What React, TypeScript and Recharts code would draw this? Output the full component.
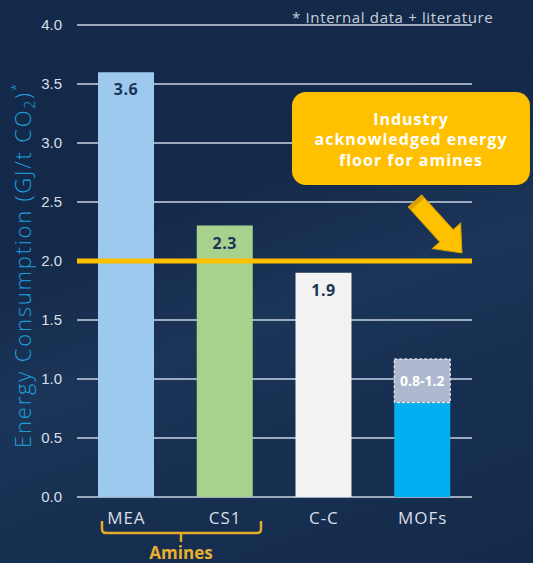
import React from 'react';
import { BarChart, Bar, XAxis, YAxis, CartesianGrid, ReferenceLine, Cell, LabelList } from 'recharts';

const categories = ['MEA', 'CS1', 'C-C', 'MOFs'];
const baseValues = [3.6, 2.3, 1.9, 0.8];
const rangeValues = [0, 0, 0, 0.37];
const valueLabels = ['3.6', '2.3', '1.9', ''];
const rangeLabels = ['', '', '', '0.8-1.2'];
const barColors = ['#9DC9EE', '#A9D18E', '#F2F2F2', '#00B0F0'];
const yTicks = [0, 0.5, 1, 1.5, 2, 2.5, 3, 3.5, 4];
const floorValue = 2.0;

const data = categories.map((c, i) => ({
  name: c,
  base: baseValues[i],
  range: rangeValues[i],
  vLabel: valueLabels[i],
  rLabel: rangeLabels[i],
}));

const W = 533;
const H = 563;

const ValueLabel = (props: any) => {
  const { x, y, width, value } = props;
  if (!value) return null;
  return (
    <text x={x + width / 2} y={y + 23} textAnchor="middle" fill="#1B3355" letterSpacing={0.5}
      fontFamily="Open Sans" fontWeight={700} fontSize={16}>{value}</text>
  );
};

const RangeLabel = (props: any) => {
  const { x, y, width, height, value } = props;
  if (!value) return null;
  return (
    <text x={x + width / 2} y={y + height / 2 + 5} textAnchor="middle" fill="#FFFFFF"
      fontFamily="Open Sans" fontWeight={700} fontSize={14}>{value}</text>
  );
};

export default function App() {
  return (
    <div style={{
      position: 'absolute', left: 0, top: 0, width: W, height: H, overflow: 'hidden',
      background: 'linear-gradient(160deg, #142A4A 0%, #14294A 35%, #1B3558 55%, #173052 70%, #142A4A 100%)',
    }}>
      <BarChart width={W} height={H} data={data}
        margin={{ top: 25, right: 61, left: 0, bottom: 36 }}>
        <CartesianGrid horizontal vertical={false} stroke="#C9D3E3" strokeWidth={1.5} />
        <XAxis dataKey="name" axisLine={false} tickLine={false} tickMargin={9} height={30}
          tick={{ fill: '#D9DEE6', fontSize: 17, fontFamily: 'Open Sans', letterSpacing: 1 }} />
        <YAxis domain={[0, 4]} ticks={yTicks} axisLine={false} tickLine={false} tickMargin={9}
          width={77} tickFormatter={(v: number) => v.toFixed(1)}
          tick={{ fill: '#D9DEE6', fontSize: 15, fontFamily: 'Liberation Sans' }} />
        <Bar dataKey="base" stackId="a" barSize={56} isAnimationActive={false}>
          {data.map((d, i) => <Cell key={d.name} fill={barColors[i]} />)}
          <LabelList dataKey="vLabel" content={ValueLabel} />
        </Bar>
        <Bar dataKey="range" stackId="a" barSize={56} fill="#AEB9CF" stroke="#FFFFFF"
          strokeDasharray="3 2" strokeWidth={1} isAnimationActive={false}>
          <LabelList dataKey="rLabel" content={RangeLabel} />
        </Bar>
        <ReferenceLine y={floorValue} stroke="#FFC000" strokeWidth={5} />
      </BarChart>
      <svg width={W} height={H} style={{ position: 'absolute', left: 0, top: 0, pointerEvents: 'none' }}>
        <text x={292} y={23} fill="#C8CFDA" fontFamily="Open Sans" fontSize={15} letterSpacing={0.65}>* Internal data + literature</text>
        <text transform="translate(31,265) rotate(-90)" textAnchor="middle" fill="#1E9FDC"
          fontFamily="Open Sans" fontWeight={300} fontSize={22} letterSpacing={1.8}>
          Energy Consumption (GJ/t CO<tspan fontSize={14} dy={4}>2</tspan><tspan dy={-4}>)</tspan><tspan fontSize={13} dy={-10}>*</tspan>
        </text>
        <rect x={292} y={92} width={238} height={93} rx={14} ry={14} fill="#FFC000" />
        <g fontFamily="Open Sans" fontWeight={700} fontSize={16} fill="#FFFFFF" textAnchor="middle" letterSpacing={1}>
          <text x={411} y={125}>Industry</text>
          <text x={411} y={145}>acknowledged energy</text>
          <text x={411} y={166}>floor for amines</text>
        </g>
        <g transform="translate(415,201) rotate(47.9)">
          <polygon points="0,-9 47,-9 47,-19 70,0 47,19 47,9 0,9" fill="#FFC000" stroke="#D9A100" strokeWidth={1} />
          <polygon points="0,-9 4,-9 4,9 0,9" fill="#D9A100" />
        </g>
        <path d="M102 521 V529 Q102 533 106 533 H257 Q261 533 261 529 V521 M181 533 V542"
          stroke="#E3AC2A" strokeWidth={2.5} fill="none" />
        <text x={181} y={559} textAnchor="middle" fill="#E8B02C" fontFamily="Open Sans"
          fontWeight={700} fontSize={17}>Amines</text>
      </svg>
    </div>
  );
}
